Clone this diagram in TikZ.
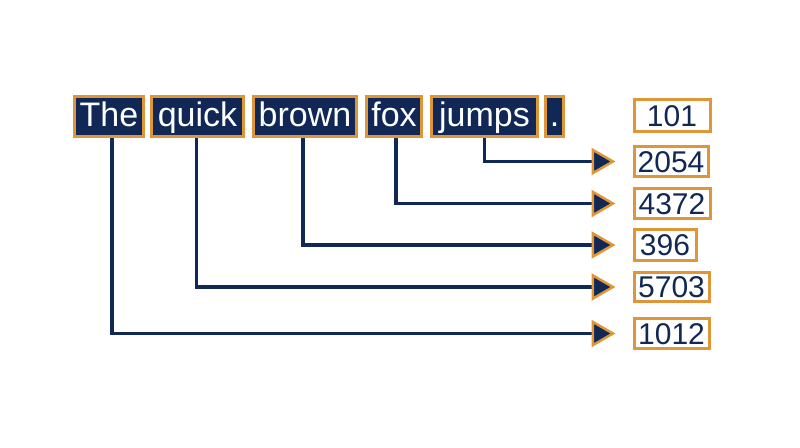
\documentclass[tikz,border=0pt]{standalone}
\usepackage{fontspec}
\setmainfont{Liberation Sans}
\usetikzlibrary{arrows.meta}
\definecolor{navy}{RGB}{17,40,87}
\definecolor{gold}{RGB}{222,150,56}
\tikzset{
  word/.style={draw=gold, fill=navy, line width=3pt, text=white, inner sep=0pt,
    minimum height=40pt, font=\fontsize{34}{34}\selectfont, text height=25pt, text depth=6pt},
  num/.style={draw=gold, fill=white, line width=3pt, text=navy, inner sep=0pt,
    anchor=west, font=\fontsize{30}{30}\selectfont, text height=22pt, text depth=1pt},
  conn/.style={draw=navy, line width=3.2pt, shorten >=17pt,
    -{Triangle[length=24pt,width=27pt,fill=navy,color=gold,line width=2.5pt]}}
}
\begin{document}
\begin{tikzpicture}[x=1pt,y=-1pt]
\useasboundingbox (0,0) rectangle (800,447);
\node[word, minimum width=69pt] (w1) at (109,116.5) {The};
\node[word, minimum width=92pt] (w2) at (197.5,116.5) {quick};
\node[word, minimum width=103pt] (w3) at (305,116.5) {brown};
\node[word, minimum width=55pt] (w4) at (394,116.5) {fox};
\node[word, minimum width=106pt] (w5) at (484.5,116.5) {jumps};
\node[word, minimum width=18pt] (w6) at (554.5,116.5) {.};

\node[num, minimum width=76pt, minimum height=32pt] (n1) at (632.5,115.5) {101};
\node[num, minimum width=74pt, minimum height=30pt] (n2) at (632.5,161.5) {2054};
\node[num, minimum width=76pt, minimum height=30pt] (n3) at (632.5,203.5) {4372};
\node[num, minimum width=62pt, minimum height=31pt] (n4) at (632.5,245) {396};
\node[num, minimum width=75pt, minimum height=29pt] (n5) at (632.5,287) {5703};
\node[num, minimum width=75pt, minimum height=30pt] (n6) at (632.5,333.5) {1012};

\draw[conn] ([xshift=3pt]w1.south) |- (n6.west);
\draw[conn] ([xshift=-1pt]w2.south) |- (n5.west);
\draw[conn] ([xshift=-2pt]w3.south) |- (n4.west);
\draw[conn] ([xshift=2pt]w4.south) |- (n3.west);
\draw[conn] (w5.south) |- (n2.west);
\end{tikzpicture}
\end{document}
